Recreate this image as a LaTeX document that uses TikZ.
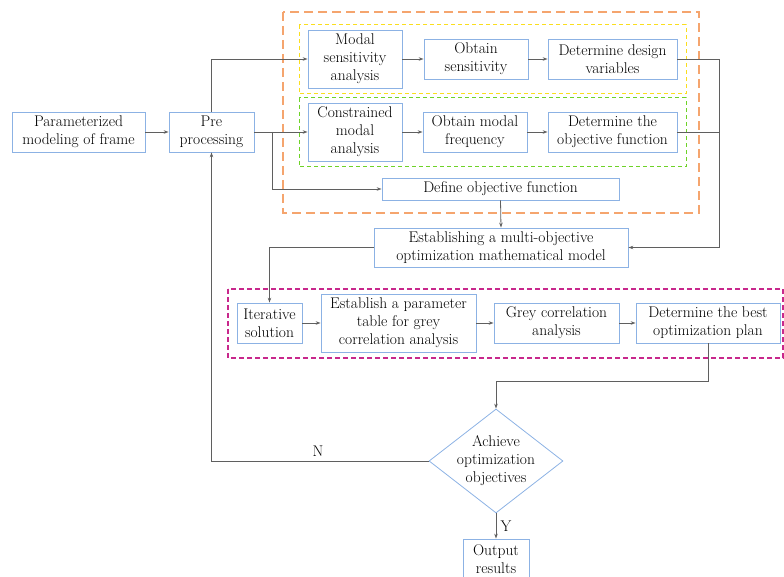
\documentclass[tikz,border=0pt]{standalone}
\usetikzlibrary{shapes.geometric,arrows.meta}
\definecolor{boxblue}{RGB}{140,178,228}
\definecolor{dorange}{RGB}{245,165,110}
\definecolor{dyellow}{RGB}{250,222,30}
\definecolor{dgreen}{RGB}{110,210,40}
\definecolor{dmagenta}{RGB}{200,40,140}
\definecolor{linegray}{RGB}{95,95,95}
\tikzset{
  txt/.style={font=\fontsize{15.5}{18}\selectfont},
  stepbox/.style={draw=boxblue, line width=0.8pt, inner sep=0pt, align=center, txt},
  link/.style={draw=linegray, line width=0.8pt},
  arr/.style={link, -{Stealth[length=5pt,width=3.5pt]}},
  grp/.style={line width=1pt, dash pattern=on 4pt off 3pt},
}
\begin{document}
\begin{tikzpicture}[x=1pt,y=-1pt]
\useasboundingbox (0,0) rectangle (784,577);
% dashed groups
\draw[grp, draw=dorange, line width=1.4pt, dash pattern=on 9pt off 5pt] (283,12) rectangle (699,213);
\draw[grp, draw=dyellow] (299,25) rectangle (686,94);
\draw[grp, draw=dgreen] (299,98) rectangle (686,167);
\draw[grp, draw=dmagenta, line width=1.1pt, dash pattern=on 5pt off 3pt] (228,289) rectangle (783,358);
% nodes
\node[stepbox, minimum width=133pt, minimum height=40pt] (param) at (78.5,132) {Parameterized\\modeling of frame};
\node[stepbox, minimum width=85pt, minimum height=40pt] (pre) at (211.5,132) {Pre\\processing};
\node[stepbox, minimum width=94pt, minimum height=58pt] (modal) at (355,59) {Modal\\sensitivity\\analysis};
\node[stepbox, minimum width=104pt, minimum height=40pt] (obtsens) at (476,59) {Obtain\\sensitivity};
\node[stepbox, minimum width=129pt, minimum height=40pt] (detvar) at (612.5,59) {Determine design\\variables};
\node[stepbox, minimum width=94pt, minimum height=58pt] (cons) at (355,132) {Constrained\\modal\\analysis};
\node[stepbox, minimum width=104pt, minimum height=40pt] (obtfreq) at (475,132) {Obtain modal\\frequency};
\node[stepbox, minimum width=129pt, minimum height=40pt] (detobj) at (612.5,132) {Determine the\\objective function};
\node[stepbox, minimum width=237pt, minimum height=22pt] (defobj) at (500.5,189) {Define objective function};
\node[stepbox, minimum width=254pt, minimum height=39pt] (estab) at (501,247.5) {Establishing a multi-objective\\optimization mathematical model};
\node[stepbox, minimum width=65pt, minimum height=40pt] (iter) at (269.5,323) {Iterative\\solution};
\node[stepbox, minimum width=155pt, minimum height=58pt] (ptable) at (398.5,323) {Establish a parameter\\table for grey\\correlation analysis};
\node[stepbox, minimum width=125pt, minimum height=40pt] (grey) at (556.5,323) {Grey correlation\\analysis};
\node[stepbox, minimum width=144pt, minimum height=40pt] (best) at (708,323) {Determine the best\\optimization plan};
\node[draw=boxblue, line width=0.8pt, diamond, aspect=1.29, inner sep=0pt, minimum width=134pt, minimum height=104pt] (dia) at (496,461) {};
\node[align=center, inner sep=0pt, txt] (diatext) at (dia.center) {Achieve\\optimization\\objectives};
\node[stepbox, minimum width=66pt, minimum height=40pt] (out) at (496,559) {Output\\results};
\node[txt, inner sep=0pt] (nlab) at (318,451) {N};
\node[txt, inner sep=0pt] (ylab) at (506,526) {Y};
% coordinates
\coordinate (brk) at (272,132);
\coordinate (rjoin) at (719,132);
\coordinate (bend) at (496,381);
% connectors
\draw[arr] (param) -- (pre);
\draw[arr] (pre.north) |- (modal.west);
\draw[arr] (pre.east) -- (cons.west);
\draw[arr] (brk) |- (defobj.west);
\draw[arr] (modal.east |- obtsens.west) -- (obtsens.west);
\draw[arr] (obtsens) -- (detvar);
\draw[arr] (cons) -- (obtfreq);
\draw[arr] (obtfreq) -- (detobj);
\draw[arr] (detvar.east) -| (rjoin) |- (estab.east);
\draw[link] (detobj.east) -- (rjoin);
\draw[arr] (defobj.south) -- (estab.north);
\draw[arr] (estab.west) -| (iter.north);
\draw[arr] (iter) -- (ptable);
\draw[arr] (ptable) -- (grey);
\draw[arr] (grey) -- (best);
\draw[arr] (best.south) |- (bend) -- (dia.north);
\draw[arr] (dia.west) -| (pre.south);
\draw[arr] (dia.south) -- (out.north);
\end{tikzpicture}
\end{document}
